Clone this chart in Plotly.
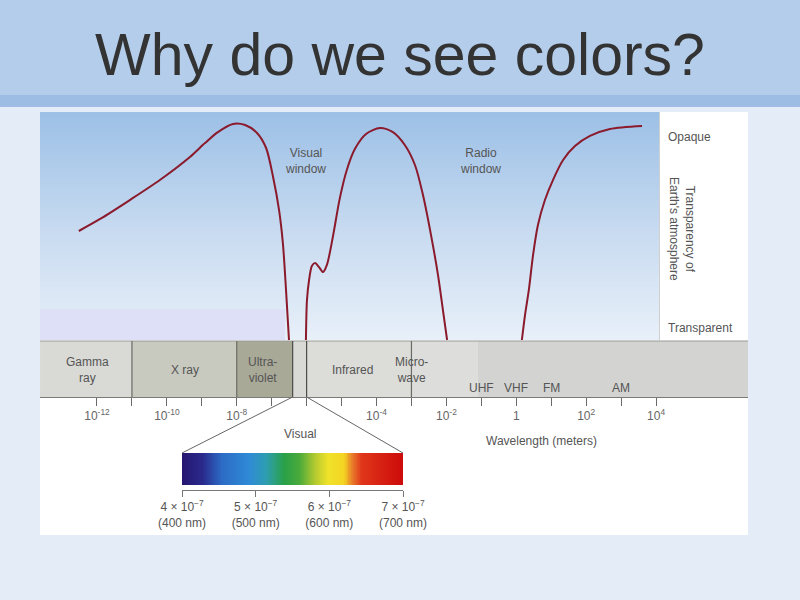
import plotly.graph_objects as go

W, H = 800, 600
FONT = "Liberation Sans, Arial, Helvetica, sans-serif"


def fx(px):
    return px / W


def fy(py):
    return 1 - py / H


# ---------------- data ----------------
# Transparency (opacity) of Earth's atmosphere vs log10(wavelength / m)
curve_exp = [-12.52, -11.91, -11.06, -10.20, -9.34, -8.91, -8.54, -8.11, -7.76, -7.42,
             -7.16, -6.96, -6.79, -6.68, -6.59, -6.505, None,
             -6.02, -5.99, -5.93, -5.85, -5.76, -5.65, -5.53, -5.42, -5.25, -5.05,
             -4.85, -4.62, -4.30, -3.90, -3.53, -3.19, -2.90, -2.67, -2.44, -2.24,
             -2.10, -1.98, None,
             0.16, 0.25, 0.36, 0.48, 0.62, 0.82, 1.05, 1.34, 1.68, 2.11, 2.68, 3.60]
curve_opacity = [0.507, 0.563, 0.651, 0.744, 0.851, 0.916, 0.967, 1.005, 1.000, 0.963,
                 0.893, 0.758, 0.605, 0.451, 0.233, 0.0, None,
                 0.0, 0.186, 0.279, 0.344, 0.358, 0.340, 0.316, 0.349, 0.479, 0.660,
                 0.791, 0.888, 0.958, 0.986, 0.967, 0.907, 0.814, 0.674, 0.488, 0.302,
                 0.140, 0.0, None,
                 0.0, 0.116, 0.233, 0.395, 0.535, 0.651, 0.744, 0.837, 0.902, 0.949, 0.981, 0.995]

# Spectrum regions (band), edges in log10(m)
region_start = [-13.63, -11.0, -8.0, -6.40, -6.0, -3.0, -1.1]
region_end = [-11.0, -8.0, -6.40, -6.0, -3.0, -1.1, 6.632]
region_colors = ["#d9d9d5", "#c8c9bf", "#a9a998", "#d9d9d5", "#dcdcd8", "#dddddb", "#d3d3d1"]
region_labels = ["Gamma<br>ray", "X ray", "Ultra-<br>violet", "Infrared", "Micro-<br>wave"]
region_label_pos = [-12.26, -9.48, -7.25, -4.70, -3.0]
divider_pos = [-11.0, -8.0, -6.40, -6.0, -3.0]

radio_labels = ["UHF", "VHF", "FM", "AM"]
radio_pos = [-1, 0, 1, 3]

major_exps = [-12, -10, -8, -4, -2, 0, 2, 4]
major_text = ["10<sup>-12</sup>", "10<sup>-10</sup>", "10<sup>-8</sup>", "10<sup>-4</sup>",
              "10<sup>-2</sup>", "1", "10<sup>2</sup>", "10<sup>4</sup>"]
minor_exps = [-11, -9, -7, -6, -5, -3, -1, 1, 3]

# Visible spectrum
vis_nm = list(range(400, 701, 2))
vis_ticks = [400, 500, 600, 700]
vis_tick_text = ["4 × 10<sup>−7</sup><br>(400 nm)", "5 × 10<sup>−7</sup><br>(500 nm)",
                 "6 × 10<sup>−7</sup><br>(600 nm)", "7 × 10<sup>−7</sup><br>(700 nm)"]
vis_colorscale = [[0.0, "#261670"], [0.09, "#2a2a8c"], [0.18, "#2c6cc6"], [0.30, "#2f8ad6"],
                  [0.38, "#2e9eb0"], [0.46, "#2aa048"], [0.53, "#4aaa3a"], [0.60, "#b4ca30"],
                  [0.66, "#f0e22a"], [0.73, "#f4d422"], [0.77, "#e87a2a"], [0.81, "#e0361a"],
                  [1.0, "#cc0a0a"]]

# ---------------- geometry ----------------
X2MIN, X2MAX = -13.631, 6.632
IMG_L, IMG_R = 40, 748


def exp_to_px(e):
    return IMG_L + (e - X2MIN) / (X2MAX - X2MIN) * (IMG_R - IMG_L)


fig = go.Figure()

# gradient background of the atmosphere panel (subplot x/y)
fig.add_trace(go.Heatmap(
    z=[[0, 0], [0.5, 0.5], [1, 1]], x=[0, 1], y=[0, 0.5, 1],
    colorscale=[[0, "#e8f0f9"], [0.45, "#cadcf1"], [1, "#9cc0e6"]],
    showscale=False, zsmooth="best", hoverinfo="skip",
    xaxis="x", yaxis="y"))

# transparency curve (subplot x2/y2)
fig.add_trace(go.Scatter(
    x=curve_exp, y=curve_opacity, mode="lines",
    line=dict(color="#8a1a2c", width=2, shape="spline", smoothing=0.8),
    connectgaps=False, hoverinfo="skip", xaxis="x2", yaxis="y2"))

# visible spectrum (subplot x3/y3)
fig.add_trace(go.Heatmap(
    z=[vis_nm, vis_nm], x=vis_nm, y=[0, 1],
    colorscale=vis_colorscale, zmin=400, zmax=700,
    showscale=False, zsmooth="best", hoverinfo="skip",
    xaxis="x3", yaxis="y3"))

shapes = []
# title band and strip
shapes.append(dict(type="rect", xref="paper", yref="paper", x0=0, x1=1, y0=fy(96), y1=1,
                   fillcolor="#b4cdea", line_width=0, layer="below"))
shapes.append(dict(type="rect", xref="paper", yref="paper", x0=0, x1=1, y0=fy(107), y1=fy(95),
                   fillcolor="#9dbde4", line_width=0, layer="below"))
# white image area
shapes.append(dict(type="rect", xref="paper", yref="paper", x0=fx(IMG_L), x1=fx(IMG_R),
                   y0=fy(535), y1=fy(112), fillcolor="white", line_width=0, layer="below"))
# right panel separator
shapes.append(dict(type="line", xref="paper", yref="paper", x0=fx(659), x1=fx(659),
                   y0=fy(340), y1=fy(112), line=dict(color="#a0a0a0", width=1), layer="below"))
# band regions
for s, e, c in zip(region_start, region_end, region_colors):
    shapes.append(dict(type="rect", xref="x2", yref="paper", x0=s, x1=e,
                       y0=fy(397), y1=fy(341), fillcolor=c, line_width=0, layer="below"))
shapes.append(dict(type="line", xref="paper", yref="paper", x0=fx(IMG_L), x1=fx(IMG_R),
                   y0=fy(341), y1=fy(341), line=dict(color="#9a9a96", width=1), layer="below"))
for d in divider_pos:
    col = "#4a4a48" if d in (-6.40, -6.0) else "#6a6a66"
    shapes.append(dict(type="line", xref="x2", yref="paper", x0=d, x1=d,
                       y0=fy(397), y1=fy(341), line=dict(color=col, width=1.2), layer="below"))
# lavender patch
shapes.append(dict(type="rect", xref="paper", yref="paper", x0=fx(IMG_L), x1=fx(285),
                   y0=fy(340), y1=fy(309), fillcolor="#dde0f7", line_width=0, layer="above"))
# zoom lines to the visible spectrum
shapes.append(dict(type="line", xref="paper", yref="paper",
                   x0=fx(exp_to_px(-6.40)), x1=fx(182), y0=fy(397), y1=fy(453),
                   line=dict(color="#666666", width=1)))
shapes.append(dict(type="line", xref="paper", yref="paper",
                   x0=fx(exp_to_px(-6.0)), x1=fx(403), y0=fy(397), y1=fy(453),
                   line=dict(color="#666666", width=1)))

ann = []
ann.append(dict(text="Why do we see colors?", x=0.5, y=fy(55), xref="paper", yref="paper",
                showarrow=False, font=dict(family=FONT, size=59, color="#333333"),
                xanchor="center", yanchor="middle"))
small = dict(family=FONT, size=12, color="#555555")
for t, p in zip(region_labels, region_label_pos):
    ann.append(dict(text=t, x=p, y=fy(370), xref="x2", yref="paper", showarrow=False,
                    font=small, xanchor="center", yanchor="middle"))
for t, p in zip(radio_labels, radio_pos):
    ann.append(dict(text=t, x=p, y=fy(388), xref="x2", yref="paper", showarrow=False,
                    font=small, xanchor="center", yanchor="middle"))
ann.append(dict(text="Visual<br>window", x=fx(305), y=fy(161), xref="paper", yref="paper",
                showarrow=False, font=small, xanchor="center", yanchor="middle"))
ann.append(dict(text="Radio<br>window", x=fx(480), y=fy(161), xref="paper", yref="paper",
                showarrow=False, font=small, xanchor="center", yanchor="middle"))
ann.append(dict(text="Opaque", x=fx(666), y=fy(137), xref="paper", yref="paper",
                showarrow=False, font=small, xanchor="left", yanchor="middle"))
ann.append(dict(text="Transparent", x=fx(666), y=fy(328), xref="paper", yref="paper",
                showarrow=False, font=small, xanchor="left", yanchor="middle"))
ann.append(dict(text="Transparency of<br>Earth's atmosphere", x=fx(682), y=fy(229),
                xref="paper", yref="paper", showarrow=False, textangle=90, font=small,
                xanchor="center", yanchor="middle"))
ann.append(dict(text="Visual", x=fx(300), y=fy(434), xref="paper", yref="paper",
                showarrow=False, font=small, xanchor="center", yanchor="middle"))
ann.append(dict(text="Wavelength (meters)", x=fx(541), y=fy(441), xref="paper", yref="paper",
                showarrow=False, font=small, xanchor="center", yanchor="middle"))

hidden = dict(visible=False, showgrid=False, zeroline=False, fixedrange=True)

fig.update_layout(
    width=W, height=H, margin=dict(l=0, r=0, t=0, b=0, pad=0, autoexpand=False),
    paper_bgcolor="#e4ecf7", plot_bgcolor="rgba(0,0,0,0)",
    showlegend=False, shapes=shapes, annotations=ann,
    font=dict(family=FONT),
    xaxis=dict(domain=[fx(IMG_L), fx(659)], range=[0, 1], **hidden),
    yaxis=dict(domain=[fy(340), fy(112)], range=[0, 1], **hidden),
    xaxis2=dict(domain=[fx(IMG_L), fx(IMG_R)], range=[X2MIN, X2MAX], anchor="free",
                position=fy(397), showgrid=False, zeroline=False, showline=True,
                linecolor="#7a7a76", linewidth=1, ticks="outside", ticklen=8,
                tickcolor="#6a6a66", tickvals=major_exps, ticktext=major_text,
                minor=dict(tickvals=minor_exps, ticks="outside", ticklen=8,
                           tickcolor="#6a6a66", showgrid=False),
                tickfont=dict(family=FONT, size=12, color="#666666"), fixedrange=True),
    yaxis2=dict(domain=[fy(340), fy(112)], range=[0, 228 / 215], anchor="x2", **hidden),
    xaxis3=dict(domain=[fx(182), fx(403)], range=[400, 700], anchor="free",
                position=fy(490), showgrid=False, zeroline=False, showline=True,
                linecolor="#777777", linewidth=1, ticks="outside", ticklen=6,
                tickcolor="#777777", tickvals=vis_ticks, ticktext=vis_tick_text,
                tickfont=dict(family=FONT, size=12, color="#555555"), fixedrange=True),
    yaxis3=dict(domain=[fy(485), fy(453)], range=[0, 1], anchor="x3", **hidden),
)

fig.write_html("out.html", config={"displayModeBar": False},
               post_script="document.body.style.margin='0';")
